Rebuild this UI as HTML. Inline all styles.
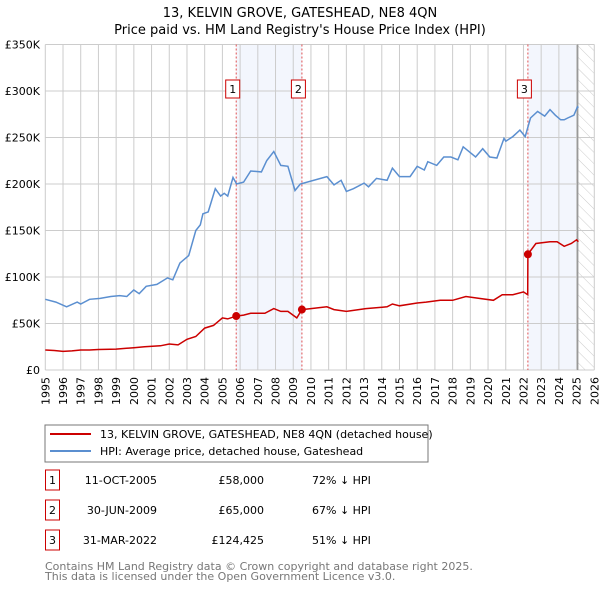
<!DOCTYPE html>
<html><head><meta charset="utf-8"><style>
body{margin:0;background:#fff;width:600px;height:590px;overflow:hidden;font-family:"DejaVu Sans","Liberation Sans",sans-serif;}
</style></head><body>
<svg id="chart" width="600" height="590" xmlns="http://www.w3.org/2000/svg" font-family="DejaVu Sans, Liberation Sans, sans-serif">
<defs><pattern id="hatch" patternUnits="userSpaceOnUse" width="8" height="8" patternTransform="rotate(-45)"><line x1="0" y1="0" x2="0" y2="8" stroke="#ccc" stroke-width="1"/></pattern></defs>
<text x="300" y="17" text-anchor="middle" font-size="13">13, KELVIN GROVE, GATESHEAD, NE8 4QN</text>
<text x="300" y="34" text-anchor="middle" font-size="13">Price paid vs. HM Land Registry's House Price Index (HPI)</text>
<g id="plot"></g>
<g>
<rect x="45" y="425" width="383" height="37" fill="#fff" stroke="#777"/>
<line x1="50" y1="434" x2="91" y2="434" stroke="#cc0000" stroke-width="2"/>
<text x="100" y="438" font-size="11">13, KELVIN GROVE, GATESHEAD, NE8 4QN (detached house)</text>
<line x1="50" y1="451" x2="91" y2="451" stroke="#5b8fd0" stroke-width="2"/>
<text x="100" y="455" font-size="11">HPI: Average price, detached house, Gateshead</text>
</g>
<g id="table" font-size="11"></g>
<text x="45" y="570" font-size="11" fill="#777">Contains HM Land Registry data © Crown copyright and database right 2025.</text>
<text x="45" y="580" font-size="11" fill="#777">This data is licensed under the Open Government Licence v3.0.</text>
</svg>
<script>
const hpiYears=[1995.0,1995.6,1996.2,1996.8,1997.0,1997.5,1998.1,1998.7,1999.2,1999.6,2000.0,2000.3,2000.7,2001.3,2001.9,2002.2,2002.6,2003.1,2003.5,2003.75,2003.9,2004.2,2004.6,2004.9,2005.1,2005.3,2005.6,2005.8,2006.2,2006.6,2007.2,2007.5,2007.9,2008.3,2008.7,2009.1,2009.4,2010.9,2011.3,2011.7,2012.0,2012.4,2013.0,2013.25,2013.7,2014.3,2014.6,2015.0,2015.6,2016.0,2016.4,2016.6,2017.1,2017.5,2017.9,2018.3,2018.6,2019.3,2019.7,2020.1,2020.5,2020.9,2021.0,2021.4,2021.8,2022.1,2022.4,2022.8,2023.2,2023.5,2023.8,2024.1,2024.3,2024.5,2024.85,2025.05,2025.1];
const hpiValues=[76,73,68,73,71,76,77,79,80,79,86,82,90,92,99,97,115,123,150,156,168,170,195,187,190,187,207,200,202,214,213,225,235,220,219,193,200,208,199,204,192,195,201,197,206,204,217,208,208,219,215,224,220,229,229,226,240,229,238,229,228,249,246,251,258,251,271,278,273,280,274,269,269,271,274,283,282];
const ppYears=[1995.0,1995.5,1996.0,1996.5,1997.0,1997.5,1998.0,1999.0,2000.0,2000.6,2001.5,2002.0,2002.5,2003.0,2003.5,2004.0,2004.5,2005.0,2005.3,2005.78,2006.2,2006.6,2007.4,2007.9,2008.3,2008.7,2009.2,2009.49,2010.0,2010.9,2011.3,2012.0,2013.1,2014.3,2014.6,2015.0,2016.0,2016.5,2017.3,2018.0,2018.75,2019.5,2020.3,2020.8,2021.4,2022.0,2022.24,2022.25,2022.7,2023.5,2023.9,2024.3,2024.7,2025.0,2025.1];
const ppValues=[21.5,21,20,20.5,21.5,21.5,22,22.5,24,25,26,28,27,33,36,45,48,56,55,58,59,61,61,66,63,63,56,65,66,68,65,63,66,68,71,69,72,73,75,75,79,77,75,81,81,84,81,124.4,136,138,138,133,136,140,138];
const yTicks=[0,50,100,150,200,250,300,350];
const yTickLabels=["£0","£50K","£100K","£150K","£200K","£250K","£300K","£350K"];
const saleYears=[2005.78,2009.49,2022.25];
const salePrices=[58,65,124.425];
const saleLabels=["1","2","3"];
const saleDates=["11-OCT-2005","30-JUN-2009","31-MAR-2022"];
const salePriceText=["£58,000","£65,000","£124,425"];
const saleHpiText=["72% ↓ HPI","67% ↓ HPI","51% ↓ HPI"];
const xStart=1995,xEnd=2026,dataEnd=2025.06;

const NS="http://www.w3.org/2000/svg";
const L=45.3,R=594.3,T=44.5,B=370;
const X=y=>L+(y-xStart)/(xEnd-xStart)*(R-L);
const Y=v=>B-v/350*(B-T);
const plot=document.getElementById('plot');
function mk(tag,attrs,parent){const e=document.createElementNS(NS,tag);for(const k in attrs)e.setAttribute(k,attrs[k]);(parent||plot).appendChild(e);return e;}

let e;
e=mk('rect',{x:X(saleYears[0]),y:T,width:X(saleYears[1])-X(saleYears[0]),height:B-T,fill:'#f3f6fd'});


e=mk('rect',{x:X(saleYears[2]),y:T,width:X(dataEnd)-X(saleYears[2]),height:B-T,fill:'#f3f6fd'});


e=mk('rect',{x:X(dataEnd),y:T,width:R-X(dataEnd),height:B-T,fill:'url(#hatch)'});



for(let yr=xStart;yr<=xEnd;yr++){
  e=mk('line',{x1:X(yr),x2:X(yr),y1:T,y2:B,stroke:'#ccc','stroke-width':1});
  
  
  e=mk('text',{x:0,y:0,'font-size':11,'text-anchor':'end',transform:`translate(${X(yr)+4},377) rotate(-90)`});
  e.textContent=yr;
  
  
}
yTicks.forEach((v,i)=>{
  e=mk('line',{x1:L,x2:R,y1:Y(v),y2:Y(v),stroke:'#ccc','stroke-width':1});
  
  
  e=mk('text',{x:40,y:Y(v)+4,'font-size':11,'text-anchor':'end'});
  e.textContent=yTickLabels[i];
  
  
});
e=mk('line',{x1:X(dataEnd),x2:X(dataEnd),y1:T,y2:B,stroke:'#999','stroke-width':1.5});



saleYears.forEach((yr,i)=>{
  e=mk('line',{x1:X(yr),x2:X(yr),y1:T,y2:B,stroke:'#e05050','stroke-width':1,'stroke-dasharray':'2,2'});
  
  
});

const pts=(xs,vs)=>xs.map((x,i)=>X(x).toFixed(1)+','+Y(vs[i]).toFixed(1)).join(' ');
e=mk('polyline',{points:pts(hpiYears,hpiValues),fill:'none',stroke:'#5b8fd0','stroke-width':1.5});


e=mk('polyline',{points:pts(ppYears,ppValues),fill:'none',stroke:'#cc0000','stroke-width':1.5});



saleYears.forEach((yr,i)=>{
  e=mk('circle',{cx:X(yr),cy:Y(salePrices[i]),r:4,fill:'#cc0000'});
  
  
  e=mk('rect',{x:X(yr)-10.5,y:80,width:14,height:18,fill:'#fff',stroke:'#cc0000'});
  
  
  e=mk('text',{x:X(yr)-3.5,y:93,'font-size':11,'text-anchor':'middle'});
  e.textContent=saleLabels[i];
  
  
});

const tbl=document.getElementById('table');
saleYears.forEach((yr,i)=>{
  const y=483+i*30;
  e=mk('rect',{x:45.5,y:y-13,width:14,height:20,fill:'#fff',stroke:'#cc0000'},tbl);
  
  
  e=mk('text',{x:52.5,y:y+1,'text-anchor':'middle'},tbl);e.textContent=saleLabels[i];
  
  
  e=mk('text',{x:157,y:y+1,'text-anchor':'end'},tbl);e.textContent=saleDates[i];
  
  
  e=mk('text',{x:264,y:y+1,'text-anchor':'end'},tbl);e.textContent=salePriceText[i];
  
  
  e=mk('text',{x:312,y:y+1},tbl);e.textContent=saleHpiText[i];
  
  
});
</script>
</body></html>
